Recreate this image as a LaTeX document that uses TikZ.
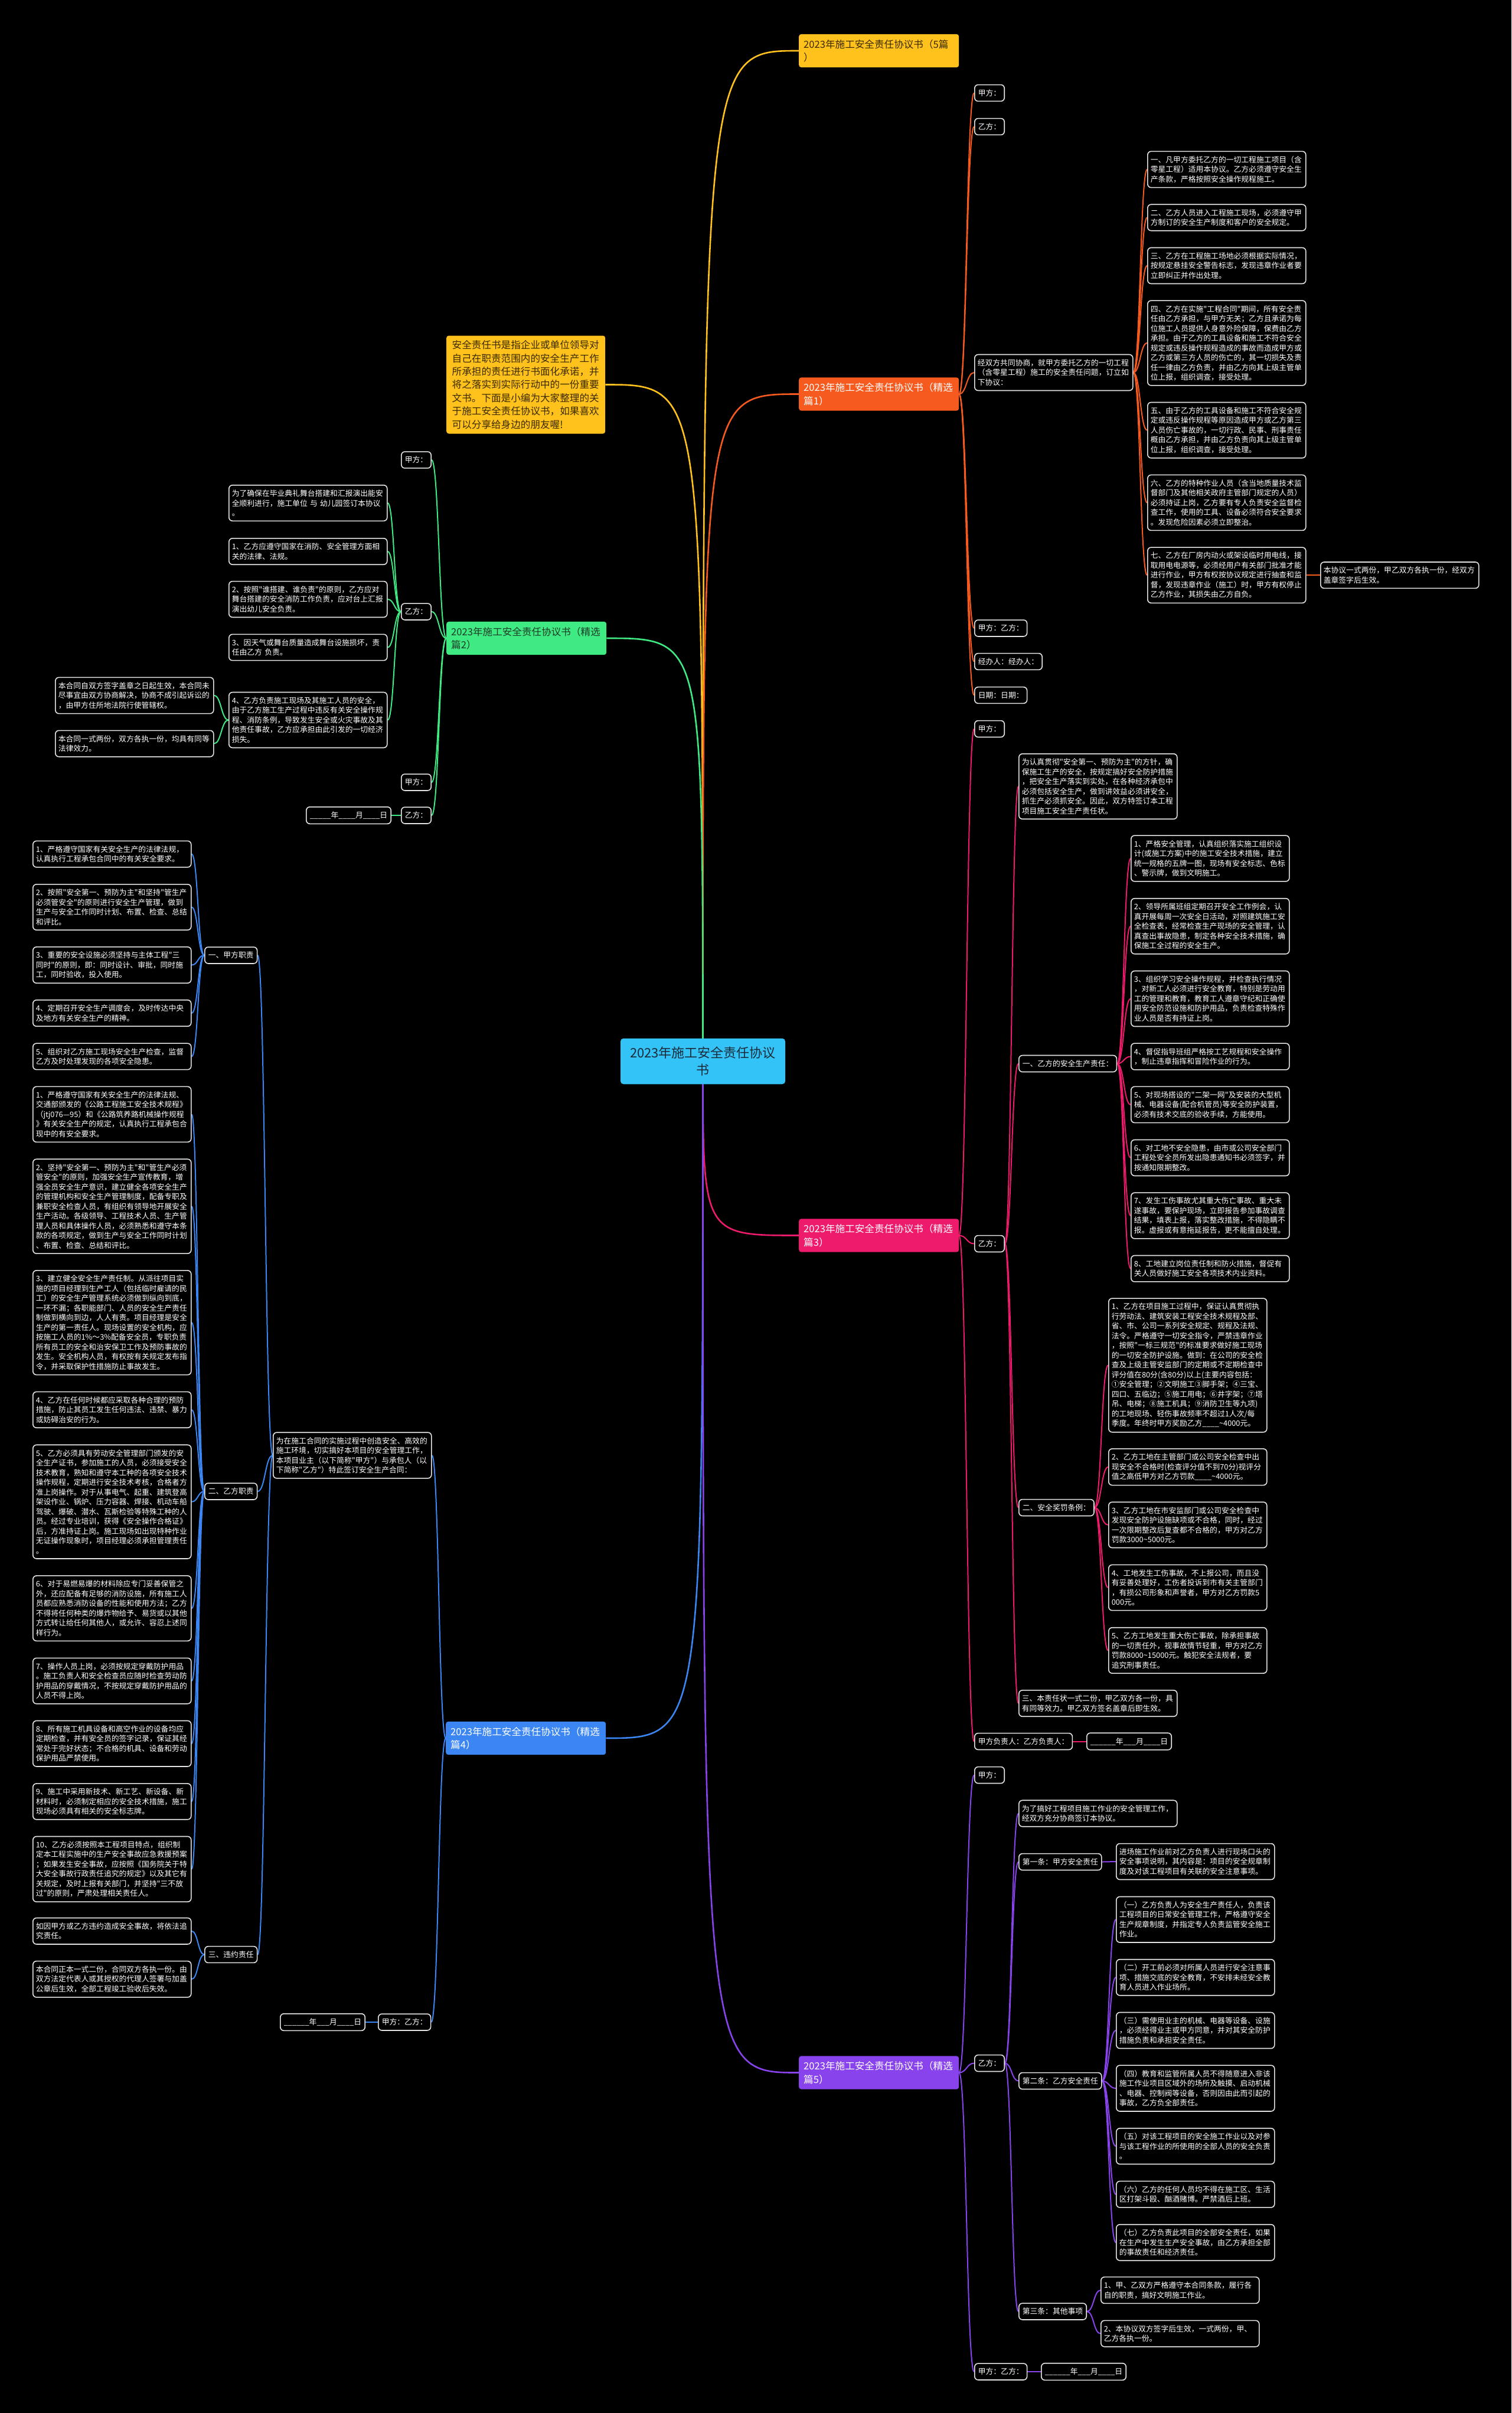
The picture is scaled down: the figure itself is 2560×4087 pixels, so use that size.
\documentclass[tikz,border=0pt]{standalone}
\usepackage{fontspec}
\usepackage{tikz}
\usetikzlibrary{backgrounds,calc}
\newfontfamily\cjk{Noto Sans CJK SC}
\definecolor{MTRoot}{HTML}{33C3F7}
\definecolor{MTRootInk}{HTML}{1C2B3A}
\definecolor{MTAmber}{HTML}{FFC21C}
\definecolor{MTAmberInk}{HTML}{3A2A00}
\definecolor{MTOrange}{HTML}{F75A1E}
\definecolor{MTGreen}{HTML}{3FEA82}
\definecolor{MTGreenInk}{HTML}{1E3A28}
\definecolor{MTPink}{HTML}{EE1A6C}
\definecolor{MTBlue}{HTML}{3B86F2}
\definecolor{MTPurple}{HTML}{8843EC}
\definecolor{MTLine}{HTML}{E4E4E4}
\tikzset{
  mtroot/.style={fill=MTRoot, text=MTRootInk, rounded corners=5pt, align=center,
    text width=252pt, inner xsep=13.5pt, inner ysep=14pt,
    font=\cjk\fontsize{22}{29}\selectfont},
  mttopic/.style={rounded corners=4pt, text=white, align=left, anchor=west,
    text width=255pt, inner xsep=8pt, inner ysep=9pt,
    font=\cjk\fontsize{16.6}{22.4}\selectfont},
  mtleaf/.style={draw=MTLine, line width=1.6pt, fill=black, text=white,
    rounded corners=6pt, align=left, anchor=west, inner xsep=6pt, inner ysep=8pt,
    font=\cjk\fontsize{12.8}{16.5}\selectfont},
  mtpara/.style={mtleaf, text width=258pt, inner xsep=5pt},
}
% first level: from the centre of the root
\newcommand{\mtbough}[3]{\draw[#1, line width=2.6pt] let \p1=(#2), \p2=(#3) in
  (\p1) .. controls (\x1,\y2) .. (\p2);}
% deeper levels: s-curve between two boxes
\newcommand{\mtlink}[3]{\draw[#1, line width=2pt] let \p1=(#2), \p2=(#3) in
  (\p1) .. controls ({(\x1+\x2)/2},\y1) and ({(\x1+\x2)/2},\y2) .. (\p2);}

\begin{document}
\begin{tikzpicture}[x=1pt, y=-1pt]
  \useasboundingbox (0,0) rectangle (2560,4087);

  \node[mtroot] (root) at (1190.5,1797.5) {2023年施工安全责任协议\\书};

  % the five documents
  \node[mttopic, fill=MTAmber, text=MTAmberInk] (intro5) at (1353,86) {2023年施工安全责任协议书（5篇\\）};
  \node[mttopic, fill=MTAmber, text=MTAmberInk, text width=250pt, inner xsep=9.5pt, inner ysep=8pt] (summary) at (756,651.5)
    {安全责任书是指企业或单位领导对\\自己在职责范围内的安全生产工作\\所承担的责任进行书面化承诺，并\\将之落实到实际行动中的一份重要\\文书。下面是小编为大家整理的关\\于施工安全责任协议书，如果喜欢\\可以分享给身边的朋友喔!};
  \node[mttopic, fill=MTOrange] (doc1) at (1353,667.5) {2023年施工安全责任协议书（精选\\篇1）};
  \node[mttopic, fill=MTGreen, text=MTGreenInk] (doc2) at (756,1081) {2023年施工安全责任协议书（精选\\篇2）};
  \node[mttopic, fill=MTPink] (doc3) at (1353,2092.5) {2023年施工安全责任协议书（精选\\篇3）};
  \node[mttopic, fill=MTBlue] (doc4) at (755,2944) {2023年施工安全责任协议书（精选\\篇4）};
  \node[mttopic, fill=MTPurple] (doc5) at (1353,3510.5) {2023年施工安全责任协议书（精选\\篇5）};

  % doc 1
  \node[mtleaf] (doc1a) at (1650,157.5) {甲方：};
  \node[mtleaf] (doc1b) at (1650,214.5) {乙方：};
  \node[mtpara] (doc1c) at (1650,631) {经双方共同协商，就甲方委托乙方的一切工程\\（含零星工程）施工的安全责任问题，订立如\\下协议：};
  \node[mtpara] (doc1c1) at (1943,287) {一、凡甲方委托乙方的一切工程施工项目（含\\零星工程）适用本协议。乙方必须遵守安全生\\产条款，严格按照安全操作规程施工。};
  \node[mtpara] (doc1c2) at (1943,368.5) {二、乙方人员进入工程施工现场，必须遵守甲\\方制订的安全生产制度和客户的安全规定。};
  \node[mtpara] (doc1c3) at (1943,450) {三、乙方在工程施工场地必须根据实际情况，\\按规定悬挂安全警告标志，发现违章作业者要\\立即纠正并作出处理。};
  \node[mtpara] (doc1c4) at (1943,581) {四、乙方在实施"工程合同"期间，所有安全责\\任由乙方承担，与甲方无关；乙方且承诺为每\\位施工人员提供人身意外险保障，保费由乙方\\承担。由于乙方的工具设备和施工不符合安全\\规定或违反操作规程造成的事故而造成甲方或\\乙方或第三方人员的伤亡的，其一切损失及责\\任一律由乙方负责，并由乙方向其上级主管单\\位上报，组织调查，接受处理。};
  \node[mtpara] (doc1c5) at (1943,728.6) {五、由于乙方的工具设备和施工不符合安全规\\定或违反操作规程等原因造成甲方或乙方第三\\人员伤亡事故的，一切行政、民事、刑事责任\\概由乙方承担，并由乙方负责向其上级主管单\\位上报，组织调查，接受处理。};
  \node[mtpara] (doc1c6) at (1943,851.4) {六、乙方的特种作业人员（含当地质量技术监\\督部门及其他相关政府主管部门规定的人员）\\必须持证上岗，乙方要有专人负责安全监督检\\查工作，使用的工具、设备必须符合安全要求\\。发现危险因素必须立即整治。};
  \node[mtpara] (doc1c7) at (1943,974.2) {七、乙方在厂房内动火或架设临时用电线，接\\取用电电源等，必须经用户有关部门批准才能\\进行作业，甲方有权按协议规定进行抽查和监\\督，发现违章作业（施工）时，甲方有权停止\\乙方作业，其损失由乙方自负。};
  \node[mtpara] (doc1c7a) at (2236,974.2) {本协议一式两份，甲乙双方各执一份，经双方\\盖章签字后生效。};
  \node[mtleaf] (doc1d) at (1650,1064) {甲方：乙方：};
  \node[mtleaf] (doc1e) at (1650,1120.5) {经办人：经办人：};
  \node[mtleaf] (doc1f) at (1650,1177.5) {日期：日期：};

  % doc 2
  \node[mtleaf] (doc2a) at (679,779) {甲方：};
  \node[mtleaf] (doc2b) at (679,1036) {乙方：};
  \node[mtpara] (doc2b1) at (387,852) {为了确保在毕业典礼舞台搭建和汇报演出能安\\全顺利进行，施工单位 与 幼儿园签订本协议\\。};
  \node[mtpara] (doc2b2) at (387,934) {1、乙方应遵守国家在消防、安全管理方面相\\关的法律、法规。};
  \node[mtpara] (doc2b3) at (387,1015) {2、按照"谁搭建、谁负责"的原则，乙方应对\\舞台搭建的安全消防工作负责，应对台上汇报\\演出幼儿安全负责。};
  \node[mtpara] (doc2b4) at (387,1096.5) {3、因天气或舞台质量造成舞台设施损坏，责\\任由乙方 负责。};
  \node[mtpara] (doc2b5) at (387,1219.5) {4、乙方负责施工现场及其施工人员的安全，\\由于乙方施工生产过程中违反有关安全操作规\\程、消防条例，导致发生安全或火灾事故及其\\他责任事故，乙方应承担由此引发的一切经济\\损失。};
  \node[mtpara] (doc2b5a) at (93,1178) {本合同自双方签字盖章之日起生效，本合同未\\尽事宜由双方协商解决，协商不成引起诉讼的\\，由甲方住所地法院行使管辖权。};
  \node[mtpara] (doc2b5b) at (93,1259.5) {本合同一式两份，双方各执一份，均具有同等\\法律效力。};
  \node[mtleaf] (doc2c) at (679,1325) {甲方：};
  \node[mtleaf] (doc2d) at (679,1381) {乙方：};
  \node[mtleaf] (doc2d1) at (518,1381) {\_\_\_\_\_年\_\_\_\_月\_\_\_\_日};

  % doc 3
  \node[mtleaf] (doc3a) at (1650,1234.5) {甲方：};
  \node[mtleaf] (doc3b) at (1650,2106.5) {乙方：};
  \node[mtpara] (doc3b0) at (1725,1332) {为认真贯彻"安全第一、预防为主"的方针，确\\保施工生产的安全，按规定搞好安全防护措施\\，把安全生产落实到实处，在各种经济承包中\\必须包括安全生产，做到讲效益必须讲安全，\\抓生产必须抓安全。因此，双方特签订本工程\\项目施工安全生产责任状。};
  \node[mtleaf] (doc3b1) at (1725,1801.5) {一、乙方的安全生产责任：};
  \node[mtpara] (doc3b1x1) at (1915,1454) {1、严格安全管理，认真组织落实施工组织设\\计(或施工方案)中的施工安全技术措施，建立\\统一规格的五牌一图，现场有安全标志、色标\\、警示牌，做到文明施工。};
  \node[mtpara] (doc3b1x2) at (1915,1568.7) {2、领导所属班组定期召开安全工作例会，认\\真开展每周一次安全日活动，对照建筑施工安\\全检查表，经常检查生产现场的安全管理，认\\真查出事故隐患，制定各种安全技术措施，确\\保施工全过程的安全生产。};
  \node[mtpara] (doc3b1x3) at (1915,1691.5) {3、组织学习安全操作规程，并检查执行情况\\，对新工人必须进行安全教育，特别是劳动用\\工的管理和教育，教育工人遵章守纪和正确使\\用安全防范设施和防护用品，负责检查特殊作\\业人员是否有持证上岗。};
  \node[mtpara] (doc3b1x4) at (1915,1789.5) {4、督促指导班组严格按工艺规程和安全操作\\，制止违章指挥和冒险作业的行为。};
  \node[mtpara] (doc3b1x5) at (1915,1871) {5、对现场搭设的"二架一网"及安装的大型机\\械、电器设备(配合机管员)等安全防护装置，\\必须有技术交底的验收手续，方能使用。};
  \node[mtpara] (doc3b1x6) at (1915,1961) {6、对工地不安全隐患，由市或公司安全部门\\工程处安全员所发出隐患通知书必须签字，并\\按通知限期整改。};
  \node[mtpara] (doc3b1x7) at (1915,2059) {7、发生工伤事故尤其重大伤亡事故、重大未\\遂事故，要保护现场，立即报告参加事故调查\\结果，填表上报，落实整改措施，不得隐瞒不\\报。虚报或有意拖延报告，更不能擅自处理。};
  \node[mtpara] (doc3b1x8) at (1915,2148.7) {8、工地建立岗位责任制和防火措施，督促有\\关人员做好施工安全各项技术内业资料。};
  \node[mtleaf] (doc3b2) at (1725,2553.5) {二、安全奖罚条例：};
  \node[mtpara] (doc3b2x1) at (1877,2312.4) {1、乙方在项目施工过程中，保证认真贯彻执\\行劳动法、建筑安装工程安全技术规程及部、\\省、市、公司一系列安全规定、规程及法规、\\法令。严格遵守一切安全指令，严禁违章作业\\，按照"一标三规范"的标准要求做好施工现场\\的一切安全防护设施。做到：在公司的安全检\\查及上级主管安监部门的定期或不定期检查中\\评分值在80分(含80分)以上(主要内容包括：\\①安全管理；②文明施工③脚手架；④三宝、\\四口、五临边；⑤施工用电；⑥井字架；⑦塔\\吊、电梯；⑧施工机具；⑨消防卫生等九项)\\的工地现场、轻伤事故频率不超过1人次/每\\季度。年终时甲方奖励乙方\_\_\_\_\textasciitilde4000元。};
  \node[mtpara] (doc3b2x2) at (1877,2484.7) {2、乙方工地在主管部门或公司安全检查中出\\现安全不合格时(检查评分值不到70分)视评分\\值之高低甲方对乙方罚款\_\_\_\_\textasciitilde4000元。};
  \node[mtpara] (doc3b2x3) at (1877,2582.8) {3、乙方工地在市安监部门或公司安全检查中\\发现安全防护设施缺项或不合格，同时，经过\\一次限期整改后复查都不合格的，甲方对乙方\\罚款3000\textasciitilde5000元。};
  \node[mtpara] (doc3b2x4) at (1877,2689) {4、工地发生工伤事故，不上报公司，而且没\\有妥善处理好，工伤者投诉到市有关主管部门\\，有损公司形象和声誉者，甲方对乙方罚款5\\000元。};
  \node[mtpara] (doc3b2x5) at (1877,2795.4) {5、乙方工地发生重大伤亡事故，除承担事故\\的一切责任外，视事故情节轻重，甲方对乙方\\罚款8000\textasciitilde15000元。触犯安全法规者，要\\追究刑事责任。};
  \node[mtpara] (doc3b3) at (1725,2885) {三、本责任状一式二份，甲乙双方各一份，具\\有同等效力。甲乙双方签名盖章后即生效。};
  \node[mtleaf] (doc3c) at (1650,2949.5) {甲方负责人：乙方负责人：};
  \node[mtleaf] (doc3c1) at (1840,2949.5) {\_\_\_\_\_\_年\_\_\_月\_\_\_\_日};

  % doc 4
  \node[mtpara] (doc4a) at (462,2465) {为在施工合同的实施过程中创造安全、高效的\\施工环境，切实搞好本项目的安全管理工作，\\本项目业主（以下简称"甲方"）与承包人（以\\下简称"乙方"）特此签订安全生产合同：};
  \node[mtleaf] (doc4a1) at (346,1618) {一、甲方职责};
  \node[mtpara] (doc4a1x1) at (55,1446.6) {1、严格遵守国家有关安全生产的法律法规，\\认真执行工程承包合同中的有关安全要求。};
  \node[mtpara] (doc4a1x2) at (55,1536.5) {2、按照"安全第一、预防为主"和坚持"管生产\\必须管安全"的原则进行安全生产管理，做到\\生产与安全工作同时计划、布置、检查、总结\\和评比。};
  \node[mtpara] (doc4a1x3) at (55,1634.5) {3、重要的安全设施必须坚持与主体工程"三\\同时"的原则，即：同时设计、审批，同时施\\工，同时验收，投入使用。};
  \node[mtpara] (doc4a1x4) at (55,1716) {4、定期召开安全生产调度会，及时传达中央\\及地方有关安全生产的精神。};
  \node[mtpara] (doc4a1x5) at (55,1789.4) {5、组织对乙方施工现场安全生产检查，监督\\乙方及时处理发现的各项安全隐患。};
  \node[mtleaf] (doc4a2) at (346,2526) {二、乙方职责};
  \node[mtpara] (doc4a2x1) at (55,1887.4) {1、严格遵守国家有关安全生产的法律法规、\\交通部颁发的《公路工程施工安全技术规程》\\（jtj076—95）和《公路筑养路机械操作规程\\》有关安全生产的规定，认真执行工程承包合\\现中的有安全要求。};
  \node[mtpara] (doc4a2x2) at (55,2043.2) {2、坚持"安全第一、预防为主"和"管生产必须\\管安全"的原则，加强安全生产宣传教育，增\\强全员安全生产意识，建立健全各项安全生产\\的管理机构和安全生产管理制度，配备专职及\\兼职安全检查人员，有组织有领导地开展安全\\生产活动。各级领导、工程技术人员、生产管\\理人员和具体操作人员，必须熟悉和遵守本条\\款的各项规定，做到生产与安全工作同时计划\\、布置、检查、总结和评比。};
  \node[mtpara] (doc4a2x3) at (55,2240.2) {3、建立健全安全生产责任制。从派往项目实\\施的项目经理到生产工人（包括临时雇请的民\\工）的安全生产管理系统必须做到纵向到底，\\一环不漏；各职能部门、人员的安全生产责任\\制做到横向到边，人人有责。项目经理是安全\\生产的第一责任人。现场设置的安全机构，应\\按施工人员的1\%～3\%配备安全员，专职负责\\所有员工的安全和治安保卫工作及预防事故的\\发生。安全机构人员，有权按有关规定发布指\\令，并采取保护性措施防止事故发生。};
  \node[mtpara] (doc4a2x4) at (55,2387.8) {4、乙方在任何时候都应采取各种合理的预防\\措施，防止其员工发生任何违法、违禁、暴力\\或妨碍治安的行为。};
  \node[mtpara] (doc4a2x5) at (55,2543.6) {5、乙方必须具有劳动安全管理部门颁发的安\\全生产证书，参加施工的人员，必须接受安全\\技术教育，熟知和遵守本工种的各项安全技术\\操作规程，定期进行安全技术考核，合格者方\\准上岗操作。对于从事电气、起重、建筑登高\\架设作业、锅炉、压力容器、焊接、机动车船\\驾驶、爆破、潜水、瓦斯检验等特殊工种的人\\员。经过专业培训，获得《安全操作合格证》\\后，方准持证上岗。施工现场如出现特种作业\\无证操作现象时，项目经理必须承担管理责任\\。};
  \node[mtpara] (doc4a2x6) at (55,2724.1) {6、对于易燃易爆的材料除应专门妥善保管之\\外，还应配备有足够的消防设施，所有施工人\\员都应熟悉消防设备的性能和使用方法；乙方\\不得将任何种类的爆炸物给予、易货或以其他\\方式转让给任何其他人，或允许、容忍上述同\\样行为。};
  \node[mtpara] (doc4a2x7) at (55,2847) {7、操作人员上岗，必须按规定穿戴防护用品\\。施工负责人和安全检查员应随时检查劳动防\\护用品的穿戴情况，不按规定穿戴防护用品的\\人员不得上岗。};
  \node[mtpara] (doc4a2x8) at (55,2953.2) {8、所有施工机具设备和高空作业的设备均应\\定期检查，并有安全员的签字记录，保证其经\\常处于完好状态；不合格的机具、设备和劳动\\保护用品严禁使用。};
  \node[mtpara] (doc4a2x9) at (55,3051.3) {9、施工中采用新技术、新工艺、新设备、新\\材料时，必须制定相应的安全技术措施，施工\\现场必须具有相关的安全标志牌。};
  \node[mtpara] (doc4a2x10) at (55,3165.8) {10、乙方必须按照本工程项目特点，组织制\\定本工程实施中的生产安全事故应急救援预案\\；如果发生安全事故，应按照《国务院关于特\\大安全事故行政责任追究的规定》以及其它有\\关规定，及时上报有关部门，并坚持"三不放\\过"的原则，严肃处理相关责任人。};
  \node[mtleaf] (doc4a3) at (346,3310.5) {三、违约责任};
  \node[mtpara] (doc4a3x1) at (55,3270.7) {如因甲方或乙方违约造成安全事故，将依法追\\究责任。};
  \node[mtpara] (doc4a3x2) at (55,3352.2) {本合同正本一式二份，合同双方各执一份。由\\双方法定代表人或其授权的代理人签署与加盖\\公章后生效，全部工程竣工验收后失效。};
  \node[mtleaf] (doc4b) at (640,3425) {甲方：乙方：};
  \node[mtleaf] (doc4b1) at (474,3425) {\_\_\_\_\_\_年\_\_\_月\_\_\_\_日};

  % doc 5
  \node[mtleaf] (doc5a) at (1650,3006.5) {甲方：};
  \node[mtleaf] (doc5b) at (1650,3494.5) {乙方：};
  \node[mtpara] (doc5b0) at (1725,3071.5) {为了搞好工程项目施工作业的安全管理工作，\\经双方充分协商签订本协议。};
  \node[mtleaf] (doc5b1) at (1725,3153.5) {第一条：甲方安全责任};
  \node[mtpara] (doc5b1x) at (1890,3153) {进场施工作业前对乙方负责人进行现场口头的\\安全事项说明，其内容是：项目的安全规章制\\度及对该工程项目有关联的安全注意事项。};
  \node[mtleaf] (doc5b2) at (1725,3524.5) {第二条：乙方安全责任};
  \node[mtpara] (doc5b2x1) at (1890,3251.2) {（一）乙方负责人为安全生产责任人，负责该\\工程项目的日常安全管理工作，严格遵守安全\\生产规章制度，并指定专人负责监管安全施工\\作业。};
  \node[mtpara] (doc5b2x2) at (1890,3349.2) {（二）开工前必须对所属人员进行安全注意事\\项、措施交底的安全教育，不安排未经安全教\\育人员进入作业场所。};
  \node[mtpara] (doc5b2x3) at (1890,3439) {（三）需使用业主的机械、电器等设备、设施\\，必须经得业主或甲方同意，并对其安全防护\\措施负责和承担安全责任。};
  \node[mtpara] (doc5b2x4) at (1890,3537) {（四）教育和监管所属人员不得随意进入非该\\施工作业项目区域外的场所及触摸、启动机械\\、电器、控制阀等设备，否则因由此而引起的\\事故，乙方负全部责任。};
  \node[mtpara] (doc5b2x5) at (1890,3635.1) {（五）对该工程项目的安全施工作业以及对参\\与该工程作业的所使用的全部人员的安全负责\\。};
  \node[mtpara] (doc5b2x6) at (1890,3716.6) {（六）乙方的任何人员均不得在施工区、生活\\区打架斗殴、酗酒赌博。严禁酒后上班。};
  \node[mtpara] (doc5b2x7) at (1890,3798.2) {（七）乙方负责此项目的全部安全责任，如果\\在生产中发生生产安全事故，由乙方承担全部\\的事故责任和经济责任。};
  \node[mtleaf] (doc5b3) at (1725,3915) {第三条：其他事项};
  \node[mtpara] (doc5b3x1) at (1864,3879) {1、甲、乙双方严格遵守本合同条款，履行各\\自的职责，搞好文明施工作业。};
  \node[mtpara] (doc5b3x2) at (1864,3952.5) {2、本协议双方签字后生效，一式两份，甲、\\乙方各执一份。};
  \node[mtleaf] (doc5c) at (1650,4017) {甲方：乙方：};
  \node[mtleaf] (doc5c1) at (1763,4017) {\_\_\_\_\_\_年\_\_\_月\_\_\_\_日};

  \begin{scope}[on background layer]
    \fill[black] (0,0) rectangle (2560,4087);
    % root to documents
    \mtbough{MTAmber}{root.center}{intro5.west}
    \mtbough{MTAmber}{root.center}{summary.east}
    \mtbough{MTOrange}{root.center}{doc1.west}
    \mtbough{MTGreen}{root.center}{doc2.east}
    \mtbough{MTPink}{root.center}{doc3.west}
    \mtbough{MTBlue}{root.center}{doc4.east}
    \mtbough{MTPurple}{root.center}{doc5.west}
    % doc 1
    \foreach \k in {doc1a,doc1b,doc1c,doc1d,doc1e,doc1f} {\mtlink{MTOrange}{doc1.east}{\k.west}}
    \foreach \k in {1,...,7} {\mtlink{MTOrange}{doc1c.east}{doc1c\k.west}}
    \mtlink{MTOrange}{doc1c7.east}{doc1c7a.west}
    % doc 2
    \foreach \k in {doc2a,doc2b,doc2c,doc2d} {\mtlink{MTGreen}{doc2.west}{\k.east}}
    \foreach \k in {1,...,5} {\mtlink{MTGreen}{doc2b.west}{doc2b\k.east}}
    \mtlink{MTGreen}{doc2b5.west}{doc2b5a.east}
    \mtlink{MTGreen}{doc2b5.west}{doc2b5b.east}
    \mtlink{MTGreen}{doc2d.west}{doc2d1.east}
    % doc 3
    \foreach \k in {doc3a,doc3b,doc3c} {\mtlink{MTPink}{doc3.east}{\k.west}}
    \foreach \k in {doc3b0,doc3b1,doc3b2,doc3b3} {\mtlink{MTPink}{doc3b.east}{\k.west}}
    \foreach \k in {1,...,8} {\mtlink{MTPink}{doc3b1.east}{doc3b1x\k.west}}
    \foreach \k in {1,...,5} {\mtlink{MTPink}{doc3b2.east}{doc3b2x\k.west}}
    \mtlink{MTPink}{doc3c.east}{doc3c1.west}
    % doc 4
    \foreach \k in {doc4a,doc4b} {\mtlink{MTBlue}{doc4.west}{\k.east}}
    \foreach \k in {doc4a1,doc4a2,doc4a3} {\mtlink{MTBlue}{doc4a.west}{\k.east}}
    \foreach \k in {1,...,5} {\mtlink{MTBlue}{doc4a1.west}{doc4a1x\k.east}}
    \foreach \k in {1,...,10} {\mtlink{MTBlue}{doc4a2.west}{doc4a2x\k.east}}
    \foreach \k in {1,2} {\mtlink{MTBlue}{doc4a3.west}{doc4a3x\k.east}}
    \mtlink{MTBlue}{doc4b.west}{doc4b1.east}
    % doc 5
    \foreach \k in {doc5a,doc5b,doc5c} {\mtlink{MTPurple}{doc5.east}{\k.west}}
    \foreach \k in {doc5b0,doc5b1,doc5b2,doc5b3} {\mtlink{MTPurple}{doc5b.east}{\k.west}}
    \mtlink{MTPurple}{doc5b1.east}{doc5b1x.west}
    \foreach \k in {1,...,7} {\mtlink{MTPurple}{doc5b2.east}{doc5b2x\k.west}}
    \foreach \k in {1,2} {\mtlink{MTPurple}{doc5b3.east}{doc5b3x\k.west}}
    \mtlink{MTPurple}{doc5c.east}{doc5c1.west}
  \end{scope}
\end{tikzpicture}
\end{document}
